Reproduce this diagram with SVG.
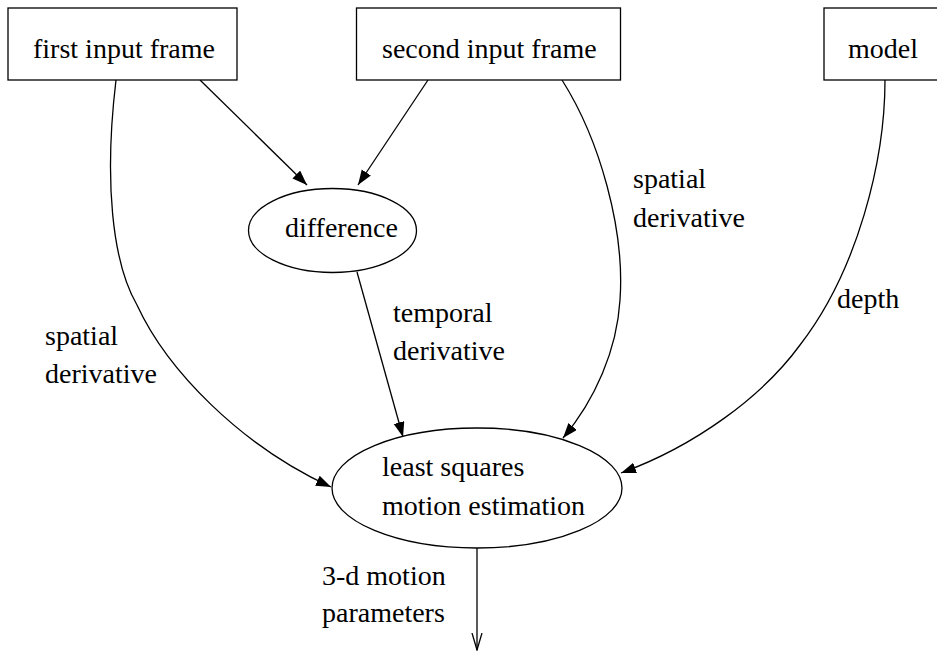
<svg xmlns="http://www.w3.org/2000/svg" width="937" height="651" viewBox="0 0 937 651">
<style>
.t{font-family:'Liberation Serif','DejaVu Serif','Noto Serif',serif;font-size:28px;fill:#000}
.n{fill:#fff;stroke:#000;stroke-width:1.3}
.e{fill:none;stroke:#000;stroke-width:1.3}
</style>
<defs>
<marker id="ah" markerUnits="userSpaceOnUse" markerWidth="16" markerHeight="12" refX="15" refY="5.5" orient="auto">
<path d="M0,0 L15,5.5 L0,11 z" fill="#000"/>
</marker>
<marker id="oh" markerUnits="userSpaceOnUse" markerWidth="18" markerHeight="12" refX="17" refY="6" orient="auto">
<path d="M0,1 L17,6 L0,11" fill="none" stroke="#000" stroke-width="1.3"/>
</marker>
</defs>
<rect width="937" height="651" fill="#fff"/>
<g id="edges">
<path class="e" d="M200,80 L307,185" marker-end="url(#ah)"/>
<path class="e" d="M428,80 L358,185" marker-end="url(#ah)"/>
<path class="e" d="M116,80 C104,180 112,262 137,305 C167,370 240,445 331,487" marker-end="url(#ah)"/>
<path class="e" d="M357,272 L403,437" marker-end="url(#ah)"/>
<path class="e" d="M562,80 C600,140 625,230 620,300 C617,350 595,400 563,438" marker-end="url(#ah)"/>
<path class="e" d="M885,80 C885,160 858,270 800,345 C762,397 695,446 621,473" marker-end="url(#ah)"/>
<path class="e" d="M477,548 L477,650" marker-end="url(#oh)"/>
</g>
<g id="labels">
<text class="t" x="45" y="345">spatial</text>
<text class="t" x="45" y="383">derivative</text>
<text class="t" x="393" y="322">temporal</text>
<text class="t" x="393" y="360">derivative</text>
<text class="t" x="633" y="188">spatial</text>
<text class="t" x="633" y="227">derivative</text>
<text class="t" x="837" y="308">depth</text>
<text class="t" x="322" y="585">3-d motion</text>
<text class="t" x="322" y="622">parameters</text>
</g>
<g id="first">
<rect class="n" x="8" y="8" width="229" height="72"/>
<text class="t" x="33" y="58">first input frame</text>
</g>
<g id="second">
<rect class="n" x="356.5" y="8" width="264" height="72"/>
<text class="t" x="382" y="58">second input frame</text>
</g>
<g id="model">
<rect class="n" x="824" y="8" width="125" height="72"/>
<text class="t" x="848" y="58">model</text>
</g>
<g id="difference">
<ellipse class="n" cx="332.5" cy="230.5" rx="84" ry="42"/>
<text class="t" x="285" y="237">difference</text>
</g>
<g id="lsq">
<ellipse class="n" cx="477" cy="488" rx="145" ry="60"/>
<text class="t" x="382" y="476">least squares</text>
<text class="t" x="382" y="515">motion estimation</text>
</g>
</svg>
